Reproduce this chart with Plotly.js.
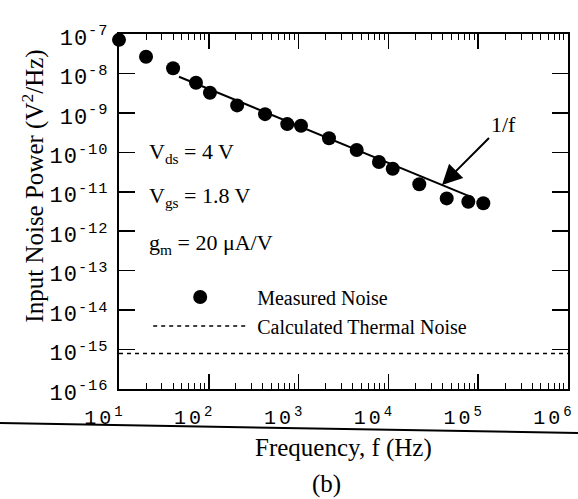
<!DOCTYPE html>
<html>
<head>
<meta charset="utf-8">
<script src="https://cdn.plot.ly/plotly-3.0.1.min.js"></script>
<style>
html,body{margin:0;padding:0;background:#fff;}
#chart{width:578px;height:499px;}
.xtick text{letter-spacing:3px;}
.ytick text{letter-spacing:1px;}
</style>
</head>
<body>
<div id="chart"></div>
<script>
// Measured input noise power (V^2/Hz) vs frequency (Hz)
var freq = [10, 20, 40, 72, 103, 207, 423, 748, 1064, 2180, 4435, 7850, 11170, 22080, 44600, 77600, 114000];
var noise = [7.1e-8, 2.65e-8, 1.35e-8, 5.8e-9, 3.25e-9, 1.55e-9, 9.3e-10, 5.2e-10, 4.7e-10, 2.27e-10, 1.15e-10, 5.7e-11, 3.85e-11, 1.55e-11, 6.8e-12, 5.6e-12, 5.1e-12];
// 1/f fit line
var fitFreq = [46.6, 86900];
var fitNoise = [8.26e-9, 7.08e-12];
// Calculated thermal noise
var thermalFreq = [10, 1e6];
var thermalNoise = [8.0e-16, 8.0e-16];
// Tick labels
var xTickVals = [10, 100, 1000, 10000, 100000, 1000000];
var xTickText = ['10<sup>1</sup>', '10<sup>2</sup>', '10<sup>3</sup>', '10<sup>4</sup>', '10<sup>5</sup>', '10<sup>6</sup>'];
var yTickVals = [1e-16, 1e-15, 1e-14, 1e-13, 1e-12, 1e-11, 1e-10, 1e-9, 1e-8, 1e-7];
var yTickText = ['10<sup>-16</sup>', '10<sup>-15</sup>', '10<sup>-14</sup>', '10<sup>-13</sup>', '10<sup>-12</sup>', '10<sup>-11</sup>', '10<sup>-10</sup>', '10<sup>-9</sup>', '10<sup>-8</sup>', '10<sup>-7</sup>'];
// Legend names
var seriesNames = ['\u00a0Measured Noise', '\u00a0Calculated Thermal Noise'];

var serif = 'Liberation Serif, Times New Roman, serif';
var mono = 'Liberation Mono, Courier New, monospace';

var traces = [
  {
    x: freq, y: noise, type: 'scatter', mode: 'markers', name: seriesNames[0],
    marker: {color: '#000', size: 14}, cliponaxis: false
  },
  {
    x: thermalFreq, y: thermalNoise, type: 'scatter', mode: 'lines', name: seriesNames[1],
    line: {color: '#000', width: 1.5, dash: '4px,4px'}
  },
  {
    x: fitFreq, y: fitNoise, type: 'scatter', mode: 'lines', showlegend: false,
    line: {color: '#000', width: 2}
  }
];

var layout = {
  width: 578, height: 499,
  margin: {l: 119, r: 10, t: 34, b: 110},
  paper_bgcolor: '#fff', plot_bgcolor: '#fff',
  showlegend: true,
  legend: {
    x: 0.065, y: 0.314, xanchor: 'left', yanchor: 'top',
    font: {family: serif, size: 20, color: '#000'},
    bgcolor: 'rgba(0,0,0,0)', itemwidth: 94, tracegroupgap: 0
  },
  xaxis: {
    type: 'log', range: [1, 6],
    tickvals: xTickVals, ticktext: xTickText,
    tickfont: {family: mono, size: 20, color: '#000'},
    ticks: 'inside', ticklen: 15, tickwidth: 1.5, tickcolor: '#000',
    showline: true, linecolor: '#000', linewidth: 2, mirror: 'allticks',
    showgrid: false, zeroline: false,
    ticklabelshift: -14, ticklabelstandoff: 9,
    minor: {ticks: 'inside', ticklen: 6, tickwidth: 1, tickcolor: '#000', dtick: 'D1', showgrid: false}
  },
  yaxis: {
    type: 'log', range: [-16, -7],
    tickvals: yTickVals, ticktext: yTickText,
    tickfont: {family: mono, size: 22, color: '#000'},
    ticks: 'inside', ticklen: 16, tickwidth: 1.5, tickcolor: '#000',
    showline: true, linecolor: '#000', linewidth: 2, mirror: 'allticks',
    showgrid: false, zeroline: false, ticklabelstandoff: 4, ticklabelshift: 3
  },
  annotations: [
    {xref: 'paper', yref: 'paper', x: -0.19, y: 0.572, xanchor: 'center', yanchor: 'middle', textangle: -90,
     text: 'Input Noise Power (V<sup>2</sup>/Hz)', showarrow: false, font: {family: serif, size: 25, color: '#000'}},
    {xref: 'paper', yref: 'paper', x: 0.499, y: -0.166, xanchor: 'center', yanchor: 'middle',
     text: 'Frequency, f (Hz)', showarrow: false, font: {family: serif, size: 25, color: '#000'}},
    {xref: 'paper', yref: 'paper', x: 0.463, y: -0.268, xanchor: 'center', yanchor: 'middle',
     text: '(b)', showarrow: false, font: {family: serif, size: 25, color: '#000'}},
    {xref: 'paper', yref: 'paper', x: 0.0625, y: 0.665, xanchor: 'left', yanchor: 'middle',
     text: 'V<sub>ds</sub> = 4 V', showarrow: false, font: {family: serif, size: 22, color: '#000'}},
    {xref: 'paper', yref: 'paper', x: 0.0625, y: 0.54, xanchor: 'left', yanchor: 'middle',
     text: 'V<sub>gs</sub> = 1.8 V', showarrow: false, font: {family: serif, size: 22, color: '#000'}},
    {xref: 'paper', yref: 'paper', x: 0.0625, y: 0.408, xanchor: 'left', yanchor: 'middle',
     text: 'g<sub>m</sub> = 20 \u03bcA/V', showarrow: false, font: {family: serif, size: 22, color: '#000'}},
    {xref: 'x', yref: 'y', x: 4.597, y: -10.829, ax: 61, ay: -61,
     text: '1/f', showarrow: true, arrowhead: 2, arrowsize: 2, arrowwidth: 2, arrowcolor: '#000', standoff: 0,
     font: {family: serif, size: 22, color: '#000'}}
  ],
  shapes: [
    {type: 'line', xref: 'paper', yref: 'paper', x0: -0.265, y0: -0.0958, x1: 1.0223, y1: -0.124,
     line: {color: '#000', width: 2}}
  ]
};

Plotly.newPlot('chart', traces, layout, {displayModeBar: false, staticPlot: true});
</script>
</body>
</html>
